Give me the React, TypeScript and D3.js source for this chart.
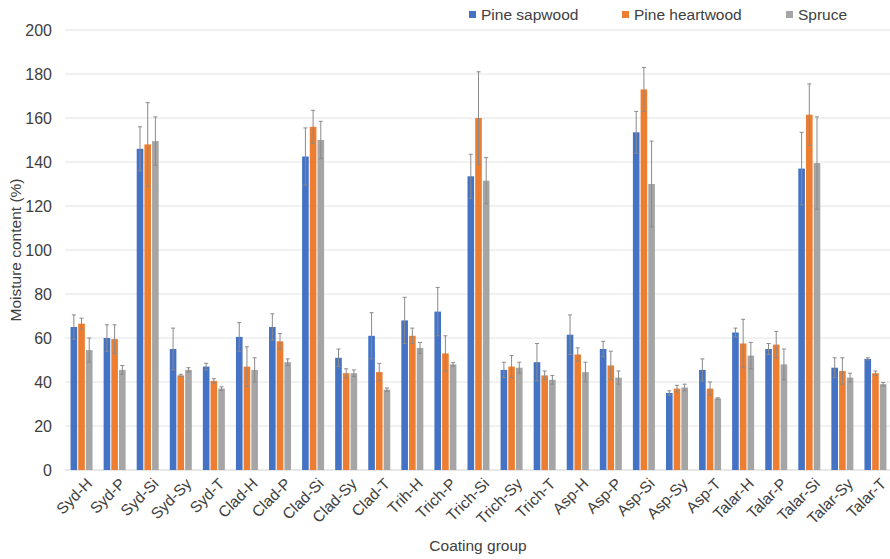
import React, { useEffect, useRef } from 'react';
import * as d3 from 'd3';

const categories = [
  'Syd-H', 'Syd-P', 'Syd-Si', 'Syd-Sy', 'Syd-T',
  'Clad-H', 'Clad-P', 'Clad-Si', 'Clad-Sy', 'Clad-T',
  'Trih-H', 'Trich-P', 'Trich-Si', 'Trich-Sy', 'Trich-T',
  'Asp-H', 'Asp-P', 'Asp-Si', 'Asp-Sy', 'Asp-T',
  'Talar-H', 'Talar-P', 'Talar-Si', 'Talar-Sy', 'Talar-T'
];

const seriesNames = ['Pine sapwood', 'Pine heartwood', 'Spruce'];
const seriesColors = ['#4472C4', '#ED7D31', '#A5A5A5'];

const sapwood = [65, 60, 146, 55, 47, 60.5, 65, 142.5, 51, 61, 68, 72, 133.5, 45.5, 49, 61.5, 55, 153.5, 35, 45.5, 62.5, 55, 137, 46.5, 50.5];
const sapwoodErr = [5.5, 6, 10, 9.5, 1.5, 6.5, 6, 13, 4, 10.5, 10.5, 11, 10, 3.5, 8.5, 9, 3.5, 9.5, 1, 5, 2, 2.5, 16.5, 4.5, 0.5];

const heartwood = [66.5, 59.5, 148, 43, 40.5, 47, 58.5, 156, 44, 44.5, 61, 53, 160, 47, 43, 52.5, 47.5, 173, 37, 37, 57.5, 57, 161.5, 45, 44];
const heartwoodErr = [2.5, 6.5, 19, 0.5, 1, 9, 3.5, 7.5, 2, 4, 3.5, 8, 21, 5, 2, 3, 6.5, 10, 1.5, 3, 11, 6, 14, 6, 1];

const spruce = [54.5, 45.5, 149.5, 45.5, 37, 45.5, 49, 150, 44, 36.5, 55.5, 48, 131.5, 46.5, 41, 44.5, 42, 130, 37.5, 32.5, 52, 48, 139.5, 42, 39];
const spruceErr = [5.5, 2, 11, 1, 0.8, 5.5, 1.5, 8.5, 1.5, 0.8, 2.5, 0.8, 10.5, 2.5, 2, 4.5, 3, 19.5, 1.5, 0.3, 6, 7, 21, 2, 0.8];

const yTicks = [0, 20, 40, 60, 80, 100, 120, 140, 160, 180, 200];

const values = [sapwood, heartwood, spruce];
const errors = [sapwoodErr, heartwoodErr, spruceErr];

export default function App() {
  const svgRef = useRef(null);

  useEffect(() => {
    const width = 890, height = 559;
    const margin = { top: 30, right: -2, bottom: 89, left: 65 };
    const font = '"Liberation Sans", Arial, sans-serif';
    const textColor = '#404040';

    const svg = d3.select(svgRef.current);
    svg.selectAll('*').remove();
    svg.attr('width', width).attr('height', height);

    const x0 = d3.scaleBand()
      .domain(categories)
      .range([margin.left, width - margin.right])
      .paddingInner(0.335)
      .paddingOuter(0.1675);

    const x1 = d3.scaleBand()
      .domain(seriesNames)
      .range([0, x0.bandwidth()])
      .paddingInner(0.14);

    const y = d3.scaleLinear()
      .domain([0, 200])
      .range([height - margin.bottom, margin.top]);

    // gridlines + y labels
    const grid = svg.append('g');
    grid.selectAll('line')
      .data(yTicks)
      .join('line')
      .attr('x1', margin.left)
      .attr('x2', width)
      .attr('y1', d => y(d))
      .attr('y2', d => y(d))
      .attr('stroke', d => (d === 0 ? '#d0d0d0' : '#e4e4e4'))
      .attr('stroke-width', 1);

    svg.append('g')
      .selectAll('text')
      .data(yTicks)
      .join('text')
      .attr('x', 52)
      .attr('y', d => y(d))
      .attr('dy', '0.36em')
      .attr('text-anchor', 'end')
      .attr('font-family', font)
      .attr('font-size', 16)
      .attr('fill', textColor)
      .text(d => d);

    // bars
    const groups = svg.append('g')
      .selectAll('g')
      .data(categories)
      .join('g')
      .attr('transform', d => `translate(${x0(d)},0)`);

    seriesNames.forEach((name, s) => {
      groups.append('rect')
        .attr('x', x1(name))
        .attr('width', x1.bandwidth())
        .attr('y', (d, i) => y(values[s][i]))
        .attr('height', (d, i) => y(0) - y(values[s][i]))
        .attr('fill', seriesColors[s]);
    });

    // error bars
    seriesNames.forEach((name, s) => {
      const cx = x1(name) + x1.bandwidth() / 2;
      const eb = groups.append('g')
        .attr('stroke', '#8a8a8a')
        .attr('stroke-width', 1);
      eb.append('line')
        .attr('x1', cx).attr('x2', cx)
        .attr('y1', (d, i) => y(values[s][i] - errors[s][i]))
        .attr('y2', (d, i) => y(values[s][i] + errors[s][i]));
      eb.append('line')
        .attr('x1', cx - 2).attr('x2', cx + 2)
        .attr('y1', (d, i) => y(values[s][i] + errors[s][i]))
        .attr('y2', (d, i) => y(values[s][i] + errors[s][i]));
      eb.append('line')
        .attr('x1', cx - 2).attr('x2', cx + 2)
        .attr('y1', (d, i) => y(values[s][i] - errors[s][i]))
        .attr('y2', (d, i) => y(values[s][i] - errors[s][i]));
    });

    // x labels
    svg.append('g')
      .selectAll('text')
      .data(categories)
      .join('text')
      .attr('transform', d => `translate(${x0(d) + x0.bandwidth() / 2 + 4},${y(0) + 7}) rotate(-45)`)
      .attr('dy', '0.7em')
      .attr('text-anchor', 'end')
      .attr('font-family', font)
      .attr('font-size', 15.5)
      .attr('fill', textColor)
      .text(d => d);

    // axis titles
    svg.append('text')
      .attr('transform', `translate(21,${(y(0) + y(200)) / 2}) rotate(-90)`)
      .attr('text-anchor', 'middle')
      .attr('font-family', font)
      .attr('font-size', 15.5)
      .attr('fill', textColor)
      .text('Moisture content (%)');

    svg.append('text')
      .attr('x', 478)
      .attr('y', 551)
      .attr('text-anchor', 'middle')
      .attr('font-family', font)
      .attr('font-size', 15.5)
      .attr('fill', textColor)
      .text('Coating group');

    // legend
    const legendX = [469, 622, 786];
    const legend = svg.append('g')
      .selectAll('g')
      .data(seriesNames)
      .join('g')
      .attr('transform', (d, i) => `translate(${legendX[i]},11)`);
    legend.append('rect')
      .attr('width', 7)
      .attr('height', 7)
      .attr('fill', (d, i) => seriesColors[i]);
    legend.append('text')
      .attr('x', 12)
      .attr('y', 9)
      .attr('font-family', font)
      .attr('font-size', 15.5)
      .attr('fill', textColor)
      .text(d => d);
  }, []);

  return (
    <div style={{ position: 'absolute', left: 0, top: 0, width: 890, height: 559, overflow: 'hidden', background: '#fff' }}>
      <svg ref={svgRef} style={{ display: 'block' }}></svg>
    </div>
  );
}
